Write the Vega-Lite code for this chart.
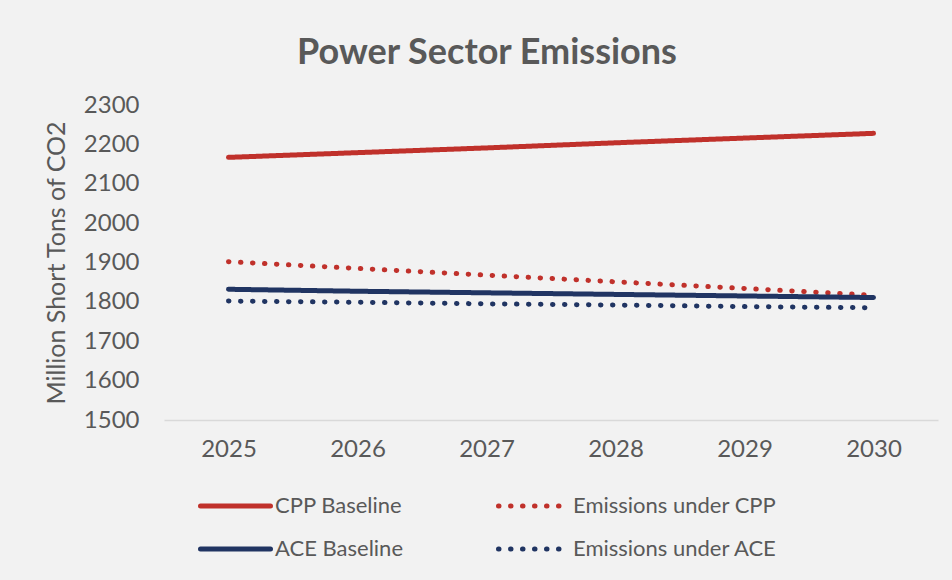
{
  "$schema": "https://vega.github.io/schema/vega-lite/v6.json",
  "autosize": {"type": "none"},
  "width": 774,
  "height": 315,
  "padding": {"left": 164, "top": 105, "right": 14, "bottom": 160},
  "background": "#f2f2f2",
  "config": {
    "view": {"stroke": null},
    "font": "Lato"
  },
  "title": {
    "text": "Power Sector Emissions",
    "anchor": "middle",
    "dx": -64,
    "fontSize": 36,
    "fontWeight": "bold",
    "color": "#595959",
    "font": "Lato",
    "baseline": "alphabetic",
    "offset": -7
  },
  "data": {
    "values": [
      {"year": "2025", "series": "CPP Baseline", "value": 2167},
      {"year": "2026", "series": "CPP Baseline", "value": 2179},
      {"year": "2027", "series": "CPP Baseline", "value": 2191},
      {"year": "2028", "series": "CPP Baseline", "value": 2204},
      {"year": "2029", "series": "CPP Baseline", "value": 2216},
      {"year": "2030", "series": "CPP Baseline", "value": 2228},
      {"year": "2025", "series": "Emissions under CPP", "value": 1902},
      {"year": "2026", "series": "Emissions under CPP", "value": 1885},
      {"year": "2027", "series": "Emissions under CPP", "value": 1868},
      {"year": "2028", "series": "Emissions under CPP", "value": 1851},
      {"year": "2029", "series": "Emissions under CPP", "value": 1834},
      {"year": "2030", "series": "Emissions under CPP", "value": 1817},
      {"year": "2025", "series": "ACE Baseline", "value": 1832},
      {"year": "2026", "series": "ACE Baseline", "value": 1827},
      {"year": "2027", "series": "ACE Baseline", "value": 1823},
      {"year": "2028", "series": "ACE Baseline", "value": 1819},
      {"year": "2029", "series": "ACE Baseline", "value": 1815},
      {"year": "2030", "series": "ACE Baseline", "value": 1811},
      {"year": "2025", "series": "Emissions under ACE", "value": 1802},
      {"year": "2026", "series": "Emissions under ACE", "value": 1799},
      {"year": "2027", "series": "Emissions under ACE", "value": 1795},
      {"year": "2028", "series": "Emissions under ACE", "value": 1792},
      {"year": "2029", "series": "Emissions under ACE", "value": 1788},
      {"year": "2030", "series": "Emissions under ACE", "value": 1785}
    ]
  },
  "mark": {"type": "line", "strokeWidth": 5, "strokeCap": "round"},
  "encoding": {
    "x": {
      "field": "year",
      "type": "ordinal",
      "scale": {"type": "point", "padding": 0.5},
      "axis": {
        "title": null,
        "labelAngle": 0,
        "labelFontSize": 24,
        "labelColor": "#595959",
        "labelPadding": 17,
        "ticks": false,
        "tickSize": 0,
        "domainColor": "#d9d9d9",
        "domainWidth": 1.5,
        "grid": false
      }
    },
    "y": {
      "field": "value",
      "type": "quantitative",
      "scale": {"domain": [1500, 2300], "nice": false, "zero": false},
      "axis": {
        "title": "Million Short Tons of CO2",
        "titleFontSize": 25,
        "titleFontWeight": "normal",
        "titleColor": "#595959",
        "titlePadding": 14,
        "format": "d",
        "values": [1500, 1600, 1700, 1800, 1900, 2000, 2100, 2200, 2300],
        "labelFontSize": 24,
        "labelColor": "#595959",
        "labelPadding": 25,
        "ticks": false,
        "tickSize": 0,
        "domain": false,
        "grid": false
      }
    },
    "color": {
      "field": "series",
      "type": "nominal",
      "scale": {
        "domain": ["CPP Baseline", "Emissions under CPP", "ACE Baseline", "Emissions under ACE"],
        "range": ["#c0312b", "#c0312b", "#203462", "#203462"]
      },
      "legend": {
        "title": null,
        "orient": "none",
        "direction": "horizontal",
        "legendX": 34,
        "legendY": 388,
        "columns": 2,
        "columnPadding": 92,
        "rowPadding": 17,
        "clipHeight": 26,
        "symbolType": "stroke",
        "symbolSize": 4900,
        "symbolStrokeWidth": 5,
        "labelFontSize": 22,
        "labelLimit": 400,
        "labelColor": "#595959",
        "labelOffset": 2,
        "encode": {
          "symbols": {"update": {"strokeCap": {"value": "round"}}}
        }
      }
    },
    "strokeDash": {
      "field": "series",
      "type": "nominal",
      "scale": {
        "domain": ["CPP Baseline", "Emissions under CPP", "ACE Baseline", "Emissions under ACE"],
        "range": [[1, 0], [0.5, 11.5], [1, 0], [0.5, 11.5]]
      },
      "legend": null
    }
  }
}
